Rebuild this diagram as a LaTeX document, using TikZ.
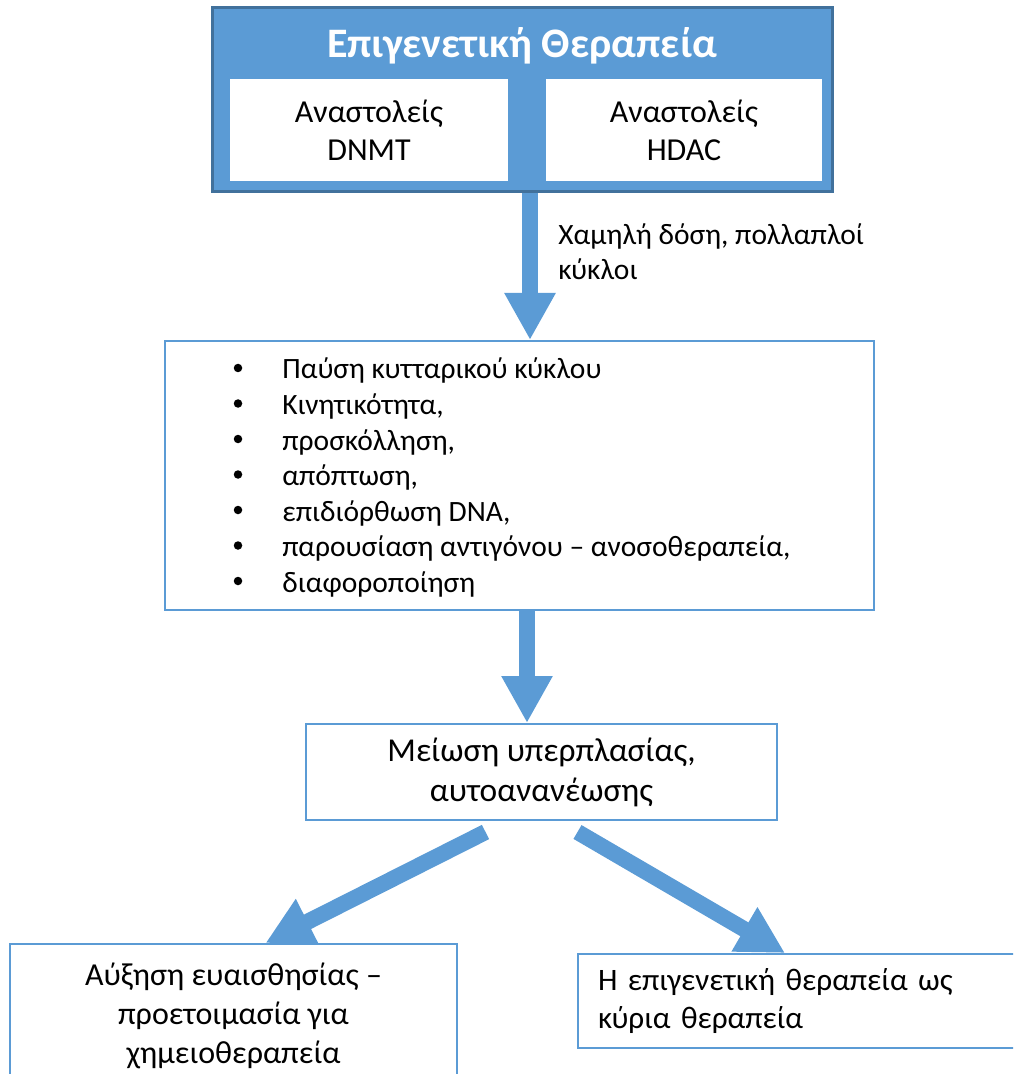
\documentclass[tikz,border=0pt]{standalone}
\usepackage{fontspec}
\setmainfont{Carlito}
\usetikzlibrary{arrows.meta,positioning}
\definecolor{fillblue}{RGB}{91,155,213}
\definecolor{edgeblue}{RGB}{65,113,156}

\begin{document}
\begin{tikzpicture}[x=0.5pt,y=-0.5pt,
  font=\fontsize{14.75}{18}\selectfont,
  box/.style={draw=fillblue, line width=1pt, fill=white, inner sep=0pt, align=center},
  inbox/.style={fill=white, align=center, minimum height=51pt, font=\fontsize{16}{19}\selectfont},
  dot/.style={circle, fill=black, inner sep=0pt, minimum size=4.25pt},
  fat/.style={draw=fillblue, line width=8pt, -{Triangle[width=24pt,length=23.5pt]}}]
  \useasboundingbox (0,0) rectangle (1013,1074);
  \clip (0,0) rectangle (1013,1074);
  % top block
  \node[fill=fillblue, draw=edgeblue, line width=1.5pt, minimum width=310pt, minimum height=92pt] (top) at (522.5,99.5) {};
  \node[anchor=base, text=white, font=\fontsize{21}{24}\selectfont\bfseries] (title) at (522,58) {Επιγενετική Θεραπεία};
  \node[inbox, minimum width=139pt] (dnmt) at (369,130) {Αναστολείς\\DNMT};
  \node[inbox, minimum width=138pt] (hdac) at (684,130.5) {Αναστολείς\\HDAC};
  % effects
  \node[box, minimum width=354.5pt, minimum height=134.5pt] (mid) at (519.5,475.5) {};
  \foreach \t [count=\i] in {Παύση κυτταρικού κύκλου, {Κινητικότητα,}, {προσκόλληση,}, {απόπτωση,},
      {επιδιόρθωση DNA,}, {παρουσίαση αντιγόνου – ανοσοθεραπεία,}, διαφοροποίηση} {
    \node[dot] (dot\i) at (238,332.5+35.5*\i) {};
    \node[anchor=base west, inner sep=0pt] (item\i) at (282,343.5+35.5*\i) {\t};
  }
  \node[box, minimum width=235.5pt, minimum height=48pt, font=\fontsize{16.7}{20}\selectfont] (red) at (541.5,772)
    {Μείωση υπερπλασίας,\\αυτοανανέωσης};
  % outcomes
  \node[box, minimum width=223.5pt, minimum height=71.5pt, font=\fontsize{16}{19.5}\selectfont] (sens) at (233.5,1015.5)
    {Αύξηση ευαισθησίας –\\προετοιμασία για\\χημειοθεραπεία};
  \node[box, minimum width=231pt, minimum height=47pt, text width=211pt, align=left, font=\fontsize{15.6}{19}\selectfont] (main) at (809,1001)
    {Η επιγενετική θεραπεία ως\\κύρια θεραπεία};
  % arrows
  \draw[fat] ([xshift=3.75pt]top.south) -- ([xshift=3.75pt]top.south |- mid.north);
  \node[anchor=west, align=left, inner sep=0pt, font=\fontsize{14.75}{17.5}\selectfont] (dose) at (558,252)
    {Χαμηλή δόση, πολλαπλοί\\κύκλοι};
  \draw[fat] ([xshift=3.75pt]mid.south) -- ([xshift=3.75pt]mid.south |- red.north);
  \draw[fat] ([xshift=-28pt,yshift=-5.5pt]red.south) -- ([xshift=16pt]sens.north);
  \draw[fat] ([xshift=18pt,yshift=-5.5pt]red.south) -- ([xshift=-12pt]main.north);
\end{tikzpicture}
\end{document}
